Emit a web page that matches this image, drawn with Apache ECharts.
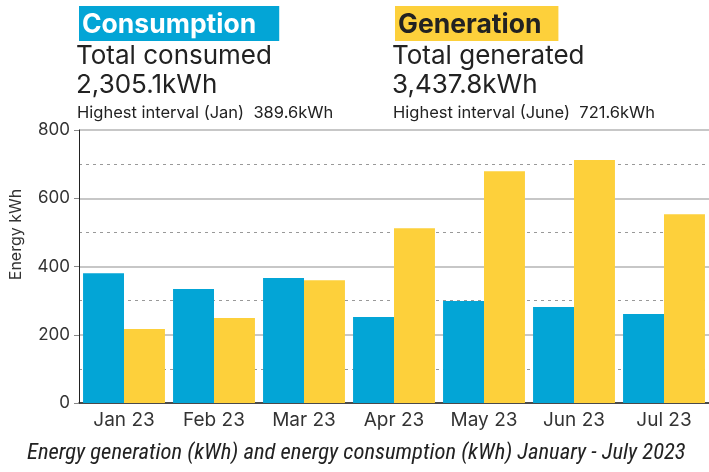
<!DOCTYPE html>
<html><head><meta charset="utf-8">
<script src="https://cdn.jsdelivr.net/npm/echarts@6/dist/echarts.min.js"></script>
<style>html,body{margin:0;padding:0;background:#fff}#c{width:709px;height:472px}</style>
</head><body><div id="c"></div>
<script>
const categories = ['Jan 23','Feb 23','Mar 23','Apr 23','May 23','Jun 23','Jul 23'];
const consumption = [380, 334, 366, 252, 299, 281, 261];
const generation = [217, 249, 360, 512, 679, 712, 553];
const yTicks = [0, 200, 400, 600, 800];

const F = 'Inter, "Noto Sans", sans-serif';
const chart = echarts.init(document.getElementById('c'));
chart.setOption({
  animation: false,
  textStyle: {fontFamily: F},
  title: [
    {text: 'Consumption', left: 79, top: 6, backgroundColor: '#03a5d6', padding: [5, 23, 1, 3],
     textStyle: {color: '#fff', fontSize: 26.5, fontWeight: 'bold', fontFamily: F, lineHeight: 29}},
    {text: 'Generation', left: 395, top: 6, backgroundColor: '#fdd03b', padding: [5, 17, 1, 3],
     textStyle: {color: '#222', fontSize: 26.5, fontWeight: 'bold', fontFamily: F, lineHeight: 29}},
    {text: 'Total consumed\n2,305.1kWh', left: 76, top: 42, padding: 0,
     textStyle: {color: '#222', fontSize: 26, fontWeight: 'normal', fontFamily: F, lineHeight: 29}},
    {text: 'Total generated\n3,437.8kWh', left: 392, top: 42, padding: 0,
     textStyle: {color: '#222', fontSize: 26, fontWeight: 'normal', fontFamily: F, lineHeight: 29}},
    {text: 'Highest interval (Jan)  389.6kWh', left: 77, top: 104, padding: 0,
     textStyle: {color: '#222', fontSize: 16.5, fontWeight: 'normal', fontFamily: F, lineHeight: 18}},
    {text: 'Highest interval (June)  721.6kWh', left: 393, top: 104, padding: 0,
     textStyle: {color: '#222', fontSize: 16.5, fontWeight: 'normal', fontFamily: F, lineHeight: 18}},
    {text: 'Energy generation (kWh) and energy consumption (kWh) January - July 2023', left: 27, top: 440, padding: 0,
     textStyle: {color: '#222', fontSize: 22.6, fontWeight: 'normal', fontStyle: 'italic',
       fontFamily: '"Roboto Condensed", "Arial Narrow", Roboto, sans-serif', lineHeight: 27}}
  ],
  grid: {left: 77, right: 0, top: 130, bottom: 69},
  xAxis: {
    type: 'category', data: categories,
    axisLine: {lineStyle: {color: '#222', width: 1.5}},
    axisTick: {show: false},
    axisLabel: {color: '#333', fontSize: 19, margin: 8, fontFamily: F}
  },
  yAxis: {
    type: 'value', min: yTicks[0], max: yTicks[yTicks.length - 1], interval: 200,
    name: 'Energy kWh', nameLocation: 'middle', nameGap: 55, nameRotate: 90,
    nameTextStyle: {color: '#333', fontSize: 16, fontFamily: F, padding: [0, 0, 0, 64]},
    axisLine: {show: true, lineStyle: {color: '#222', width: 1}},
    axisTick: {show: true, length: 5, lineStyle: {color: '#888'}},
    axisLabel: {color: '#333', fontSize: 17, margin: 9, fontFamily: F},
    splitLine: {lineStyle: {color: '#b5b5b5', width: 1.5}},
    minorTick: {show: false, splitNumber: 2},
    minorSplitLine: {show: true, lineStyle: {color: '#999', type: [3, 4], width: 1}}
  },
  series: [
    {name: 'Consumption', type: 'bar', data: consumption, barGap: '0%', barCategoryGap: '9%',
     itemStyle: {color: '#03a5d6'}},
    {name: 'Generation', type: 'bar', data: generation, barGap: '0%', barCategoryGap: '9%',
     itemStyle: {color: '#fdd03b'}}
  ]
});
</script></body></html>
